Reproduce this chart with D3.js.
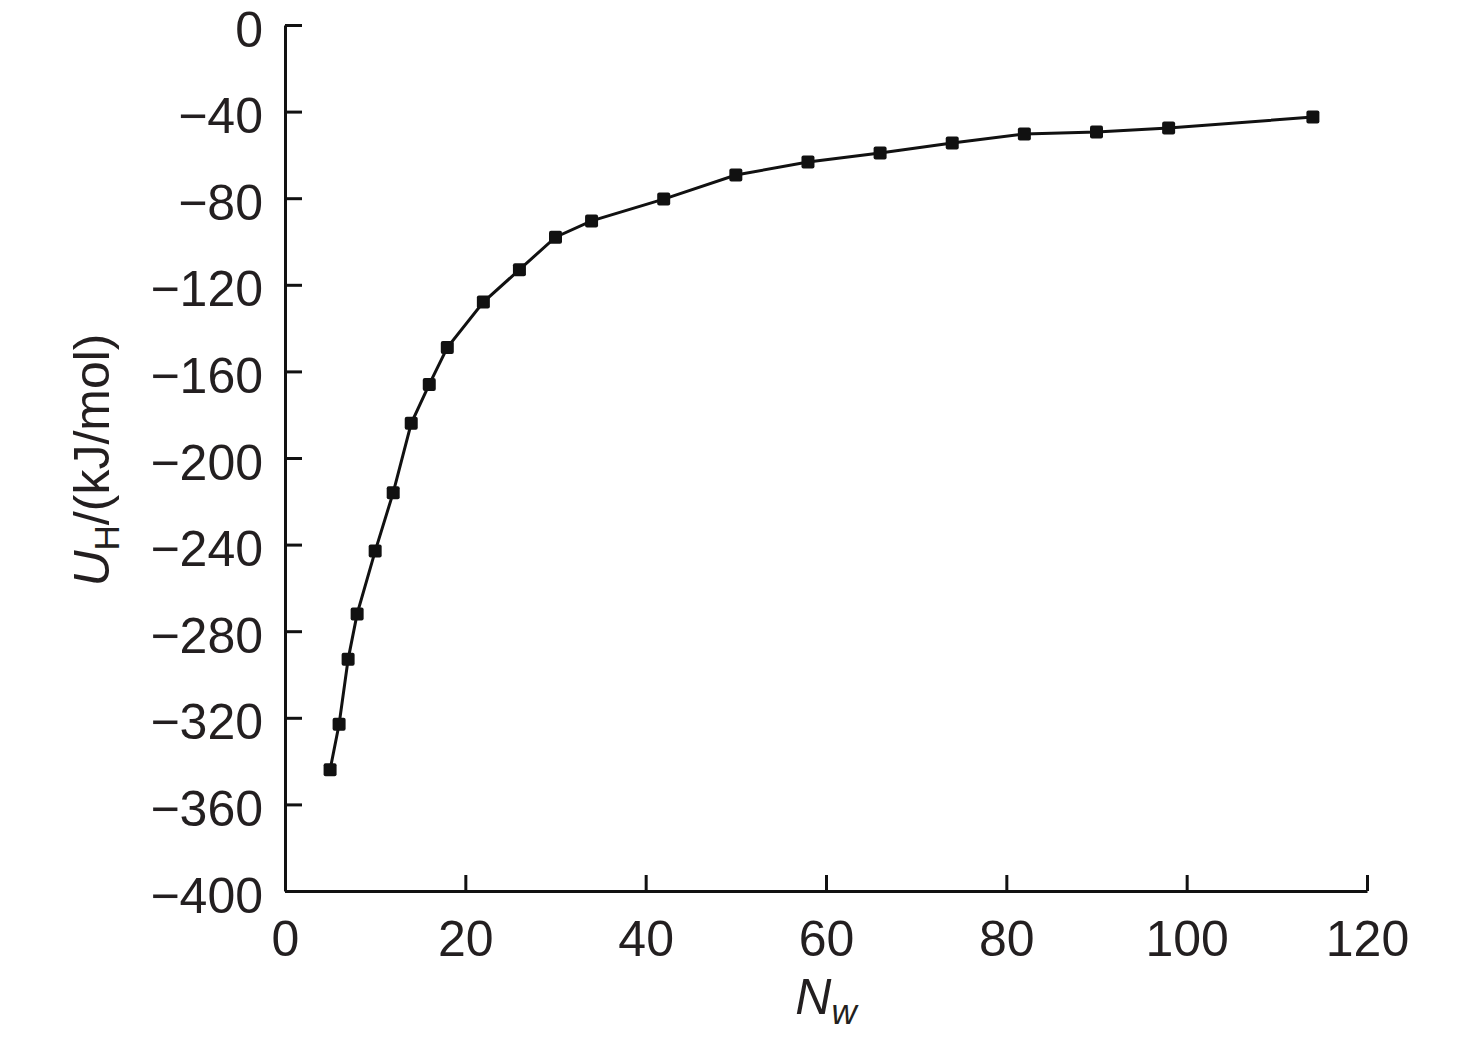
<!DOCTYPE html>
<html>
<head>
<meta charset="utf-8">
<script src="https://cdn.jsdelivr.net/npm/d3@7"></script>
<style>
  body { margin: 0; background: #fff; }
  text { font-family: "Liberation Sans", Arial, sans-serif; fill: #231f20; }
</style>
</head>
<body>
<svg id="chart"></svg>
<script>
// data
const nw = [5, 6, 7, 8, 10, 12, 14, 16, 18, 22, 26, 30, 34, 42, 50, 58, 66, 74, 82, 90, 98, 114];
const uh = [-344, -323, -293, -272, -243, -216, -184, -166, -149, -128, -113, -98, -90.5, -80.4,
            -69.3, -63.3, -59.1, -54.5, -50.3, -49.4, -47.6, -42.5];
const xTicks = [0, 20, 40, 60, 80, 100, 120];
const yTicks = [0, -40, -80, -120, -160, -200, -240, -280, -320, -360, -400];

const W = 1476, H = 1043;
const margin = { top: 25, right: 109, bottom: 152, left: 285 },
      width = W - margin.left - margin.right,
      height = H - margin.top - margin.bottom;

const svg = d3.select("#chart")
    .attr("width", W)
    .attr("height", H)
  .append("g")
    .attr("transform", "translate(" + margin.left + "," + margin.top + ")");

const x = d3.scaleLinear().domain([0, 120]).range([0, width]);
const y = d3.scaleLinear().domain([-400, 0]).range([height, 0]);

// axes, ticks point inward
const xAxis = svg.append("g")
    .attr("transform", `translate(0, ${height})`)
    .call(d3.axisBottom(x).tickValues(xTicks).tickSizeInner(-16).tickSizeOuter(0).tickPadding(29));
const yAxis = svg.append("g")
    .call(d3.axisLeft(y).tickValues(yTicks).tickSizeInner(-17).tickSizeOuter(0).tickPadding(22)
      .tickFormat(d => d === 0 ? "0" : "\u2212" + Math.abs(d)));

[xAxis, yAxis].forEach(a => {
  a.select(".domain").attr("stroke", "#111").attr("stroke-width", 3);
  a.selectAll(".tick line").attr("stroke", "#111").attr("stroke-width", 3);
  a.selectAll(".tick text").style("font-size", "50px").attr("fill", "#231f20")
    .style("font-family", "'Liberation Sans', Arial, sans-serif");
});
xAxis.selectAll(".tick text").attr("dy", "0.71em");
yAxis.selectAll(".tick text").attr("dy", "0.42em");

// line
const pts = nw.map((d, i) => [d, uh[i]]);
svg.append("path")
    .datum(pts)
    .attr("fill", "none")
    .attr("stroke", "#111")
    .attr("stroke-width", 3)
    .attr("d", d3.line().x(d => x(d[0])).y(d => y(d[1])));

// square markers
svg.selectAll(".pt")
    .data(pts)
  .enter().append("rect")
    .attr("class", "pt")
    .attr("x", d => x(d[0]) - 6.5)
    .attr("y", d => y(d[1]) - 6.5)
    .attr("width", 13)
    .attr("height", 13)
    .attr("rx", 2)
    .attr("fill", "#111");

// x label
const xl = svg.append("text")
    .attr("x", width / 2)
    .attr("y", height + 123)
    .attr("text-anchor", "middle")
    .style("font-size", "50px");
xl.append("tspan").style("font-style", "italic").text("N");
xl.append("tspan").style("font-style", "italic").style("font-size", "35px").attr("dy", 10).text("w");

// y label
const yl = svg.append("text")
    .attr("transform", `translate(${-176}, ${height / 2 + 2}) rotate(-90)`)
    .attr("text-anchor", "middle")
    .style("font-size", "50px");
yl.append("tspan").style("font-style", "italic").text("U");
yl.append("tspan").style("font-size", "35px").attr("dy", 10).text("H");
yl.append("tspan").attr("dy", -10).text("/(kJ/mol)");
</script>
</body>
</html>
